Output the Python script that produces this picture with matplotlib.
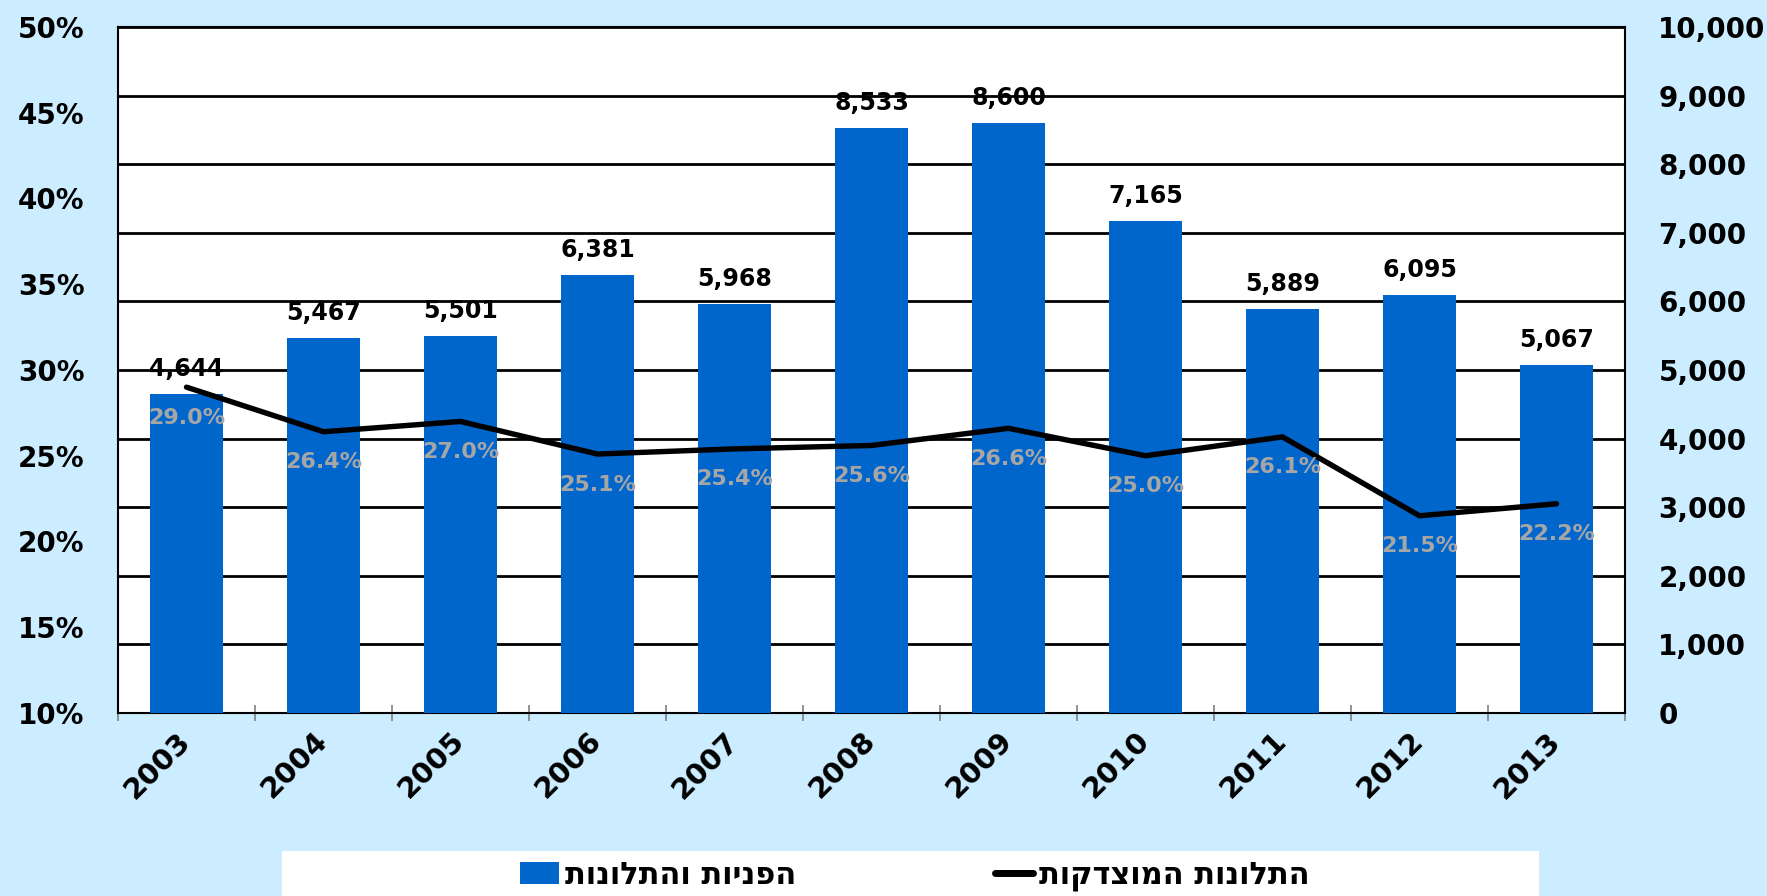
import matplotlib
matplotlib.use("Agg")
import matplotlib.pyplot as plt
from matplotlib.patches import Rectangle, Patch
from matplotlib.lines import Line2D
from matplotlib.ticker import FuncFormatter, FixedLocator

plt.rcParams['font.family'] = ['DejaVu Sans']
plt.rcParams['font.weight'] = 'bold'

years = ['2003', '2004', '2005', '2006', '2007', '2008', '2009', '2010', '2011', '2012', '2013']
complaints = [4644, 5467, 5501, 6381, 5968, 8533, 8600, 7165, 5889, 6095, 5067]
justified_pct = [29.0, 26.4, 27.0, 25.1, 25.4, 25.6, 26.6, 25.0, 26.1, 21.5, 22.2]
legend_bars = 'הפניות והתלונות'
legend_line = 'התלונות המוצדקות'

BG = '#CCECFF'
BAR = '#0066CC'

fig = plt.figure(figsize=(17.67, 8.96), dpi=100, facecolor=BG)
ax = fig.add_axes([118/1767, (896-713)/896, (1625-118)/1767, (713-27)/896])
ax.set_facecolor('white')

x = list(range(len(years)))
ax.bar(x, complaints, width=0.53, color=BAR, zorder=3)
ax.set_ylim(0, 10000)
ax.set_xlim(-0.5, len(years) - 0.5)
ax.grid(axis='y', color='black', linewidth=2, zorder=1)
ax.set_axisbelow(True)

for xi, v in zip(x, complaints):
    ax.annotate(f"{v:,}", (xi, v), xytext=(0, 13), textcoords='offset points',
                ha='center', va='baseline', fontsize=17, fontweight='bold', color='black', zorder=6)

# x ticks
ax.set_xticks(x)
ax.set_xticklabels(years, rotation=45, ha='right', va='center', rotation_mode='anchor',
                   fontsize=21, fontweight='bold')
ax.tick_params(axis='x', which='major', length=0, pad=17)
ax.set_xticks([i - 0.5 for i in range(len(years) + 1)], minor=True)
ax.tick_params(axis='x', which='minor', length=11, direction='inout', color='#808080', width=1.2)

for s in ax.spines.values():
    s.set_color('black')
    s.set_linewidth(1.5)

axl = ax.twinx()
# bars axis -> right side, line axis -> left side
ax.yaxis.tick_right()
ax.yaxis.set_label_position('right')
ax.yaxis.set_major_locator(FixedLocator(range(0, 10001, 1000)))
ax.yaxis.set_major_formatter(FuncFormatter(lambda v, p: f"{int(v):,}"))
ax.tick_params(axis='y', which='both', length=0, pad=24, labelsize=20,
               left=False, labelleft=False, right=True, labelright=True)

axl.yaxis.tick_left()
axl.set_ylim(10, 50)
axl.yaxis.set_major_locator(FixedLocator(range(10, 51, 5)))
axl.yaxis.set_major_formatter(FuncFormatter(lambda v, p: f"{int(v)}%"))
axl.tick_params(axis='y', which='both', length=0, pad=24, labelsize=20,
                left=True, labelleft=True, right=False, labelright=False)
axl.plot(x, justified_pct, color='black', linewidth=3.9, solid_capstyle='round',
         solid_joinstyle='miter', zorder=4)
for xi, v in zip(x, justified_pct):
    axl.annotate(f"{v:.1f}%", (xi, v), xytext=(0, -22), textcoords='offset points',
                 ha='center', va='center', fontsize=16, fontweight='bold', color='#A6A6A6', zorder=5)
for s in axl.spines.values():
    s.set_visible(False)

# legend box
fig.patches.append(Rectangle((282/1767, 0), (1539-282)/1767, 45/896, transform=fig.transFigure,
                             facecolor='white', edgecolor='none', zorder=0))
handles = [Patch(facecolor=BAR, edgecolor='none'),
           Line2D([0], [0], color='black', linewidth=5, solid_capstyle='round')]
labels = [legend_bars[::-1], legend_line[::-1]]
fig.legend(handles, labels, ncol=2, loc='center', bbox_to_anchor=(915/1767, 20/896),
           frameon=False, prop={'size': 22, 'weight': 'bold'}, columnspacing=6.5,
           handlelength=1.25, handletextpad=0.2)

fig.savefig('out.png', dpi=100, facecolor=BG)
